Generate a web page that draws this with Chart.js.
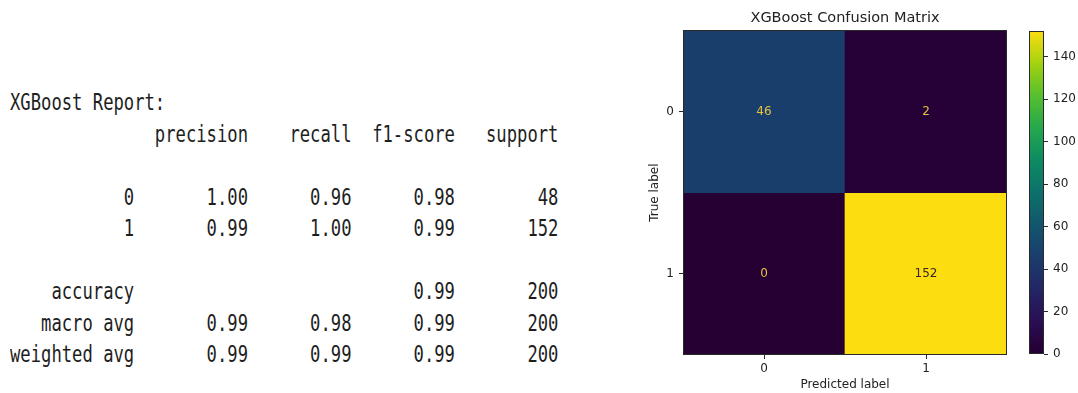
<!DOCTYPE html>
<html>
<head>
<meta charset="utf-8">
<script src="https://cdn.jsdelivr.net/npm/chart.js@4.4.1/dist/chart.umd.min.js"></script>
<style>
  body { margin: 0; background: #fff; width: 1078px; height: 393px; position: relative; overflow: hidden; }
  #report { position: absolute; left: 10px; top: 0; }
  .line {
    position: absolute; left: 0; height: 31.5px; line-height: 31.5px;
    font-family: "DejaVu Sans Mono", monospace; font-size: 17.2px; color: #1e1e1e;
    white-space: pre; transform: scaleY(1.3); transform-origin: left center;
  }
  #cm { position: absolute; left: 640px; top: 0; }
  #cbar { position: absolute; left: 1020px; top: 0; }
</style>
</head>
<body>
<div id="report"></div>
<canvas id="cm" width="380" height="393"></canvas>
<canvas id="cbar" width="58" height="393"></canvas>
<script>
// classification report
var reportTitle = 'XGBoost Report:';
var reportHeaders = ['precision', 'recall', 'f1-score', 'support'];
var classNames = ['0', '1'];
var precision = [1.00, 0.99];
var recall = [0.96, 1.00];
var f1Score = [0.98, 0.99];
var support = [48, 152];
var accuracy = 0.99;
var totalSupport = 200;
var avgNames = ['macro avg', 'weighted avg'];
var avgPrecision = [0.99, 0.99];
var avgRecall = [0.98, 0.99];
var avgF1 = [0.99, 0.99];

// confusion matrix
var predictedLabels = ['0', '1'];
var trueLabels = ['0', '1'];
var cmRow0 = [46, 2];
var cmRow1 = [0, 152];
var cmRows = [cmRow0, cmRow1];
var colorbarStep = 20;

var NAME_W = 12, COL_W = 9;

function col(v) { return ' ' + String(v).padStart(COL_W); }
function num(v) { return col(v.toFixed(2)); }
function name(s) { return s.padStart(NAME_W) + ' '; }

function buildReport() {
    var lines = [reportTitle];
    lines.push(name('') + reportHeaders.map(col).join(''));
    lines.push('');
    for (var i = 0; i < classNames.length; i++) {
        lines.push(name(classNames[i]) + num(precision[i]) + num(recall[i]) + num(f1Score[i]) + col(support[i]));
    }
    lines.push('');
    lines.push(name('accuracy') + col('') + col('') + num(accuracy) + col(totalSupport));
    for (var j = 0; j < avgNames.length; j++) {
        lines.push(name(avgNames[j]) + num(avgPrecision[j]) + num(avgRecall[j]) + num(avgF1[j]) + col(totalSupport));
    }
    var box = document.getElementById('report');
    lines.forEach(function (text, k) {
        var d = document.createElement('div');
        d.className = 'line';
        d.style.top = (103 + k * 31.5 - 15.75) + 'px';
        d.textContent = text;
        box.appendChild(d);
    });
}

// viridis, a bit darker like the saved figure
var viridisStops = ['#440154', '#482475', '#414487', '#355f8d', '#2a788e', '#21918c',
                    '#22a884', '#44bf70', '#7ad151', '#bddf26', '#fde725'];

function hexRgb(h) {
    return [parseInt(h.substr(1, 2), 16), parseInt(h.substr(3, 2), 16), parseInt(h.substr(5, 2), 16)];
}

function viridis(t) {
    t = Math.max(0, Math.min(1, t));
    var p = t * (viridisStops.length - 1);
    var i = Math.min(Math.floor(p), viridisStops.length - 2);
    var f = p - i;
    var a = hexRgb(viridisStops[i]), b = hexRgb(viridisStops[i + 1]);
    var c = a.map(function (v, k) {
        var x = (v + (b[k] - v) * f) / 255;
        return Math.round(255 * Math.pow(x, 1.45));
    });
    return 'rgb(' + c.join(',') + ')';
}

var maxCount = Math.max.apply(null, cmRows.map(function (r) { return Math.max.apply(null, r); }));
var minCount = Math.min.apply(null, cmRows.map(function (r) { return Math.min.apply(null, r); }));
var threshold = (maxCount + minCount) / 2;

var TEXT = '#222';
var FONT = 'DejaVu Sans';
var TICK_SIZE = 12;

var framePlugin = {
    id: 'frame',
    afterDraw: function (chart) {
        var a = chart.chartArea, ctx = chart.ctx;
        ctx.save();
        ctx.strokeStyle = '#2a2a2a';
        ctx.lineWidth = 1;
        ctx.strokeRect(Math.round(a.left) + 0.5, Math.round(a.top) + 0.5,
                       Math.round(a.right - a.left) - 1, Math.round(a.bottom - a.top) - 1);
        ctx.restore();
    }
};

var cellTextPlugin = {
    id: 'cellText',
    afterDatasetsDraw: function (chart) {
        var ctx = chart.ctx;
        ctx.save();
        ctx.font = TICK_SIZE + 'px "' + FONT + '"';
        ctx.textAlign = 'center';
        ctx.textBaseline = 'middle';
        chart.data.datasets.forEach(function (ds, r) {
            chart.getDatasetMeta(r).data.forEach(function (bar, c) {
                var v = cmRows[r][c];
                ctx.fillStyle = v < threshold ? '#e3c23e' : '#3a2426';
                ctx.fillText(String(v), bar.x, (bar.y + bar.base) / 2);
            });
        });
        ctx.restore();
    }
};

var handleMatrix = function () {
    var ctx = document.getElementById('cm').getContext('2d');
    new Chart(ctx, {
        type: 'bar',
        data: {
            labels: predictedLabels,
            datasets: cmRows.map(function (row, r) {
                return {
                    label: trueLabels[r],
                    data: row.map(function () { return 1; }),
                    backgroundColor: row.map(function (v) { return viridis(v / maxCount); }),
                    borderWidth: 0,
                    categoryPercentage: 1,
                    barPercentage: 1
                };
            })
        },
        options: {
            responsive: false,
            devicePixelRatio: 1,
            animation: false,
            layout: { padding: { left: 0, right: 13, top: 0, bottom: 0 } },
            plugins: {
                legend: { display: false },
                tooltip: { enabled: false },
                title: {
                    display: true,
                    text: 'XGBoost Confusion Matrix',
                    color: TEXT,
                    fullSize: false,
                    font: { family: FONT, size: 14.5, weight: 'normal' },
                    padding: { top: 10, bottom: 3 }
                }
            },
            scales: {
                x: {
                    stacked: true,
                    grid: { offset: false, drawOnChartArea: false, drawTicks: true, tickLength: 4, tickColor: '#2a2a2a' },
                    border: { display: false },
                    ticks: { color: TEXT, font: { family: FONT, size: TICK_SIZE }, padding: 3 },
                    title: {
                        display: true, text: 'Predicted label', color: TEXT,
                        font: { family: FONT, size: TICK_SIZE }, padding: { top: 0, bottom: 1 }
                    },
                    afterFit: function (scale) { scale.height = 38; }
                },
                y: {
                    stacked: true,
                    reverse: true,
                    min: 0,
                    max: trueLabels.length,
                    grid: { drawOnChartArea: false, drawTicks: true, tickLength: 4, tickColor: '#2a2a2a' },
                    border: { display: false },
                    afterBuildTicks: function (scale) {
                        scale.ticks = trueLabels.map(function (l, i) { return { value: i + 0.5 }; });
                    },
                    ticks: {
                        color: TEXT, font: { family: FONT, size: TICK_SIZE }, padding: 5,
                        callback: function (v) { return trueLabels[Math.floor(v)]; }
                    },
                    title: {
                        display: true, text: 'True label', color: TEXT,
                        font: { family: FONT, size: TICK_SIZE }, padding: { top: 8, bottom: 0 }
                    },
                    afterFit: function (scale) { scale.width = 43; }
                }
            }
        },
        plugins: [cellTextPlugin, framePlugin]
    });
};

var handleColorbar = function () {
    var ctx = document.getElementById('cbar').getContext('2d');
    new Chart(ctx, {
        type: 'bar',
        data: {
            labels: [''],
            datasets: [{
                data: [maxCount],
                borderWidth: 0,
                categoryPercentage: 1,
                barPercentage: 1,
                backgroundColor: function (c) {
                    var chart = c.chart, y = chart.scales.y;
                    if (!chart.chartArea || !y) return viridis(0);
                    var g = chart.ctx.createLinearGradient(0, y.getPixelForValue(minCount), 0, y.getPixelForValue(maxCount));
                    for (var i = 0; i <= 40; i++) g.addColorStop(i / 40, viridis(i / 40));
                    return g;
                }
            }]
        },
        options: {
            responsive: false,
            devicePixelRatio: 1,
            animation: false,
            layout: { padding: { left: 9, right: 0, top: 31, bottom: 39 } },
            plugins: { legend: { display: false }, tooltip: { enabled: false } },
            scales: {
                x: { display: false },
                y: {
                    position: 'right',
                    min: minCount,
                    max: maxCount,
                    grid: { drawOnChartArea: false, drawTicks: true, tickLength: 4, tickColor: '#2a2a2a' },
                    border: { display: false },
                    ticks: { stepSize: colorbarStep, color: TEXT, font: { family: FONT, size: TICK_SIZE }, padding: 5 },
                    afterBuildTicks: function (scale) {
                        scale.ticks = scale.ticks.filter(function (t) { return t.value % colorbarStep === 0; });
                    },
                    afterFit: function (scale) { scale.width = 34; }
                }
            }
        },
        plugins: [framePlugin]
    });
};

buildReport();
handleMatrix();
handleColorbar();
</script>
</body>
</html>
